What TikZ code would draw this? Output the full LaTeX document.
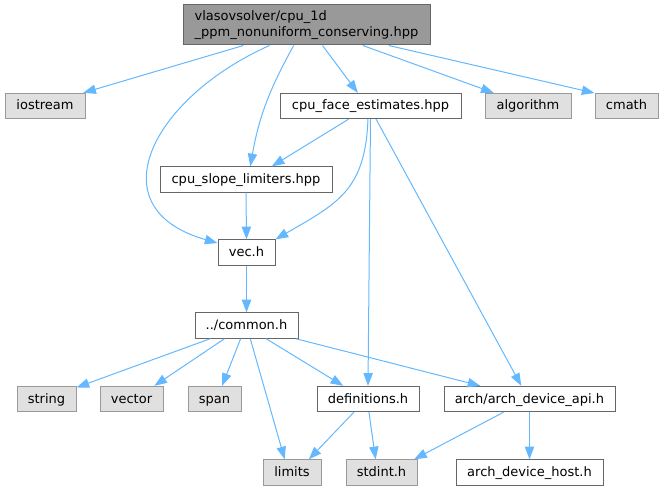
\documentclass[tikz,border=0pt]{standalone}
\usepackage{fontspec}
\setmainfont{DejaVu Sans}
\usepackage{xcolor}
\usepackage{tikz}
\usetikzlibrary{arrows.meta}
\definecolor{edgeblue}{HTML}{63B8FF}
\definecolor{boxgray}{HTML}{E0E0E0}
\definecolor{boxgrayline}{HTML}{999999}
\definecolor{rootgray}{HTML}{999999}
\definecolor{darkline}{HTML}{666666}
\tikzset{
graynodev1/.style={rectangle, draw=boxgrayline, fill=boxgray, line width=0.75pt, inner sep=0pt, minimum height=19pt, text height=7.3pt, text depth=1.3pt, font=\fontsize{9.75}{12}\selectfont},
whitenodev1/.style={rectangle, draw=darkline, fill=white, line width=0.75pt, inner sep=0pt, minimum height=19pt, text height=7.3pt, text depth=1.3pt, font=\fontsize{9.75}{12}\selectfont},
rootnodev1/.style={rectangle, draw=darkline, fill=rootgray, line width=0.75pt, inner sep=0pt, minimum height=30pt, align=left, font=\fontsize{9.75}{12}\selectfont},
edgev1/.style={draw=edgeblue, line width=0.75pt, -{Triangle[length=9.5pt,width=7pt]}},
}
\begin{document}
\begin{tikzpicture}[x=0.75pt,y=-0.75pt]
\useasboundingbox (0,0) rectangle (663,491);
\node[rootnodev1, minimum width=185.25pt] at (306.5,25) (root) {vlasovsolver/cpu\_1d\\\_ppm\_nonuniform\_conserving.hpp};
\node[graynodev1, minimum width=60pt] at (45,106) (iostream) {iostream};
\node[whitenodev1, minimum width=135.75pt] at (370.5,106) (faceest) {cpu\_face\_estimates.hpp};
\node[graynodev1, minimum width=64.5pt] at (528,106) (algorithm) {algorithm};
\node[graynodev1, minimum width=47.25pt] at (626.5,106) (cmath) {cmath};
\node[whitenodev1, minimum width=129pt] at (246,179.5) (slopelim) {cpu\_slope\_limiters.hpp};
\node[whitenodev1, minimum width=42.75pt] at (246.5,252.5) (vech) {vec.h};
\node[whitenodev1, minimum width=77.25pt] at (246.5,325.5) (common) {../common.h};
\node[graynodev1, minimum width=44.25pt] at (46.5,399) (string) {string};
\node[graynodev1, minimum width=47.25pt] at (131.5,399) (vector) {vector};
\node[graynodev1, minimum width=39.75pt] at (214.5,399) (span) {span};
\node[whitenodev1, minimum width=76.5pt] at (368,399) (definitions) {definitions.h};
\node[whitenodev1, minimum width=128.25pt] at (529.5,399) (archapi) {arch/arch\_device\_api.h};
\node[graynodev1, minimum width=43.5pt] at (292,472.5) (limits) {limits};
\node[graynodev1, minimum width=53.25pt] at (381.5,472.5) (stdint) {stdint.h};
\node[whitenodev1, minimum width=110.25pt] at (529.5,472.5) (archhost) {arch\_device\_host.h};
%top file
\draw[edgev1] (root.198) to (iostream.19);
\draw[edgev1] (root.209) to[out=204,in=164,looseness=1.6] (vech.162);
\draw[edgev1] (root.238) to[out=241,in=80] (slopelim.72);
\draw[edgev1] (root.-52) to (faceest.134);
\draw[edgev1] (root.-20.5) to (algorithm.159);
\draw[edgev1] (root.-14) to (cmath.158);
%face estimates
\draw[edgev1] (faceest.211) to (slopelim.27);
\draw[edgev1] (faceest.259) to[out=-92,in=30,looseness=1.2] (vech.north east);
\draw[edgev1] (faceest.south) to (definitions.north);
\draw[edgev1] (faceest.-67) to (archapi.122);
\draw[edgev1] (slopelim.south) to (vech.north);
\draw[edgev1] (vech.south) to (common.north);
%common
\draw[edgev1] (common.200.5) to (string.21);
\draw[edgev1] (common.211) to (vector.30);
\draw[edgev1] (common.246) to (span.60);
\draw[edgev1] (common.286) to (limits.119);
\draw[edgev1] (common.-34) to (definitions.152);
\draw[edgev1] (common.-15) to (archapi.165);
%bottom row
\draw[edgev1] (definitions.223) to (limits.38);
\draw[edgev1] (definitions.-86) to (stdint.114);
\draw[edgev1] (archapi.207) to (stdint.22);
\draw[edgev1] (archapi.south) to (archhost.north);
\end{tikzpicture}
\end{document}
